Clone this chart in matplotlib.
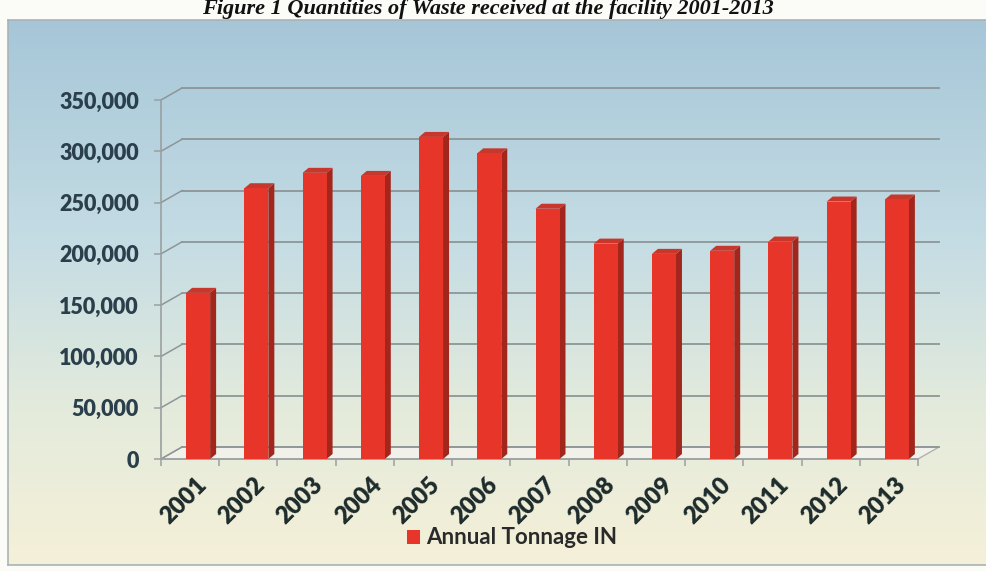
import matplotlib.pyplot as plt
import numpy as np
from matplotlib.colors import LinearSegmentedColormap
from matplotlib.patches import Polygon, Patch

years = ['2001', '2002', '2003', '2004', '2005', '2006', '2007',
         '2008', '2009', '2010', '2011', '2012', '2013']
tonnage = [162000, 264000, 279000, 276000, 314000, 298000, 244000,
           210000, 200000, 203000, 212000, 251000, 253000]
yticks = [0, 50000, 100000, 150000, 200000, 250000, 300000, 350000]
title = 'Figure 1 Quantities of Waste received at the facility 2001-2013'
series_name = 'Annual Tonnage IN'

W, H = 987, 571
fig = plt.figure(figsize=(W / 100, H / 100), dpi=100)
fig.patch.set_facecolor('#fbfbf8')

# gradient chart area (blue top -> cream bottom)
bg = fig.add_axes([8 / W, 6 / H, 1 - 8 / W, (H - 26) / H])
cmap = LinearSegmentedColormap.from_list('bg', [(0, '#a6c6d8'), (0.4, '#c4dce4'),
                                                (0.72, '#e4ebdc'), (1, '#f5f0d8')])
bg.imshow(np.linspace(0, 1, 256).reshape(-1, 1), aspect='auto', cmap=cmap,
          extent=[0, 1, 0, 1], origin='upper')
bg.set_xticks([])
bg.set_yticks([])
for s in bg.spines.values():
    s.set_color('#a9b3b6')
    s.set_linewidth(1.2)

# plot axes: front axis 0 at y=459px, 350k at y=100px, x from 161 to 918px
left, right, y0, y350 = 161, 918, 459, 100
ax = fig.add_axes([left / W, (H - y0) / H, (right - left) / W, (y0 - y350) / H])
ax.set_facecolor('none')
n = len(years)
ax.set_xlim(-0.5, n - 0.5)
ax.set_ylim(0, 350000)

px_x = (right - left) / n            # pixels per category
px_y = (y0 - y350) / 350000          # pixels per unit
dxw, dyw = 21 / px_x, 12 / px_y      # depth of the floor (front -> back)

gridc = '#8d9597'
# floor
floor = Polygon([(-0.5, 0), (n - 0.5, 0), (n - 0.5 + dxw, dyw), (-0.5 + dxw, dyw)],
                closed=True, facecolor='#f3f3ee', edgecolor='#a3a8a8', lw=1.0,
                alpha=0.85, clip_on=False, zorder=1)
ax.add_patch(floor)

# back gridlines + left wall connectors
for v in yticks:
    ax.plot([-0.5 + dxw, n - 0.5 + dxw], [v + dyw, v + dyw], color=gridc, lw=1.3,
            clip_on=False, zorder=1.5)
    ax.plot([-0.5, -0.5 + dxw], [v, v + dyw], color=gridc, lw=1.1,
            clip_on=False, zorder=1.5)

# bars with a simple 3D look
bw = 24 / px_x
shift = 8 / px_x
dxb, dyb = 6 / px_x, 5 / px_y
x = np.arange(n)
for xi, h in zip(x, tonnage):
    x0 = xi + shift - bw / 2
    x1 = x0 + bw
    side = Polygon([(x1, 0), (x1 + dxb, dyb), (x1 + dxb, h + dyb), (x1, h)],
                   closed=True, facecolor='#a3261c', edgecolor='none', zorder=3,
                   clip_on=False)
    top = Polygon([(x0, h), (x1, h), (x1 + dxb, h + dyb), (x0 + dxb, h + dyb)],
                  closed=True, facecolor='#c8372c', edgecolor='none', zorder=3,
                  clip_on=False)
    ax.add_patch(side)
    ax.add_patch(top)
ax.bar(x + shift, tonnage, width=bw, color='#e7352a', zorder=3)

for s in ['top', 'right']:
    ax.spines[s].set_visible(False)
ax.spines['left'].set_color('#9aa0a0')
ax.spines['bottom'].set_color('#9aa0a0')
ax.spines['left'].set_linewidth(1.2)
ax.spines['bottom'].set_linewidth(1.2)

ax.set_yticks(yticks)
ax.set_yticklabels([f'{v:,}' for v in yticks])
ax.tick_params(axis='y', direction='out', length=5, width=1.1, color='#9aa0a0',
               pad=11, labelsize=15.5, labelcolor='#2a3f4b')
for lab in ax.get_yticklabels():
    lab.set_fontfamily('Lato')
    lab.set_fontweight('heavy')

ax.set_xticks(np.arange(n + 1) - 0.5, minor=True)
ax.set_xticks([])
ax.tick_params(axis='x', which='minor', direction='out', length=5, width=1.1,
               color='#9aa0a0')

# rotated year labels
for xi, yr in zip(x, years):
    ax.text(xi + 13 / px_x, -22 / px_y, yr, rotation=45, rotation_mode='anchor',
            ha='right', va='center', fontsize=17, fontweight='heavy',
            fontfamily='Lato', color='#1d2b2b', clip_on=False, zorder=4)

fig.legend(handles=[Patch(facecolor='#e7352a')], labels=[series_name],
           loc='center', bbox_to_anchor=(512 / W, 1 - 538 / H), frameon=False,
           handlelength=0.6, handleheight=0.6, handletextpad=0.3,
           prop={'family': 'Lato', 'weight': 'bold', 'size': 16},
           labelcolor='#2a2a2a')

fig.text(488 / W, 1 - 14 / H, title, ha='center', va='baseline', fontsize=16,
         fontfamily='Liberation Serif', fontweight='bold', style='italic',
         color='#111111')

fig.savefig('out.png', dpi=100, facecolor=fig.get_facecolor())
